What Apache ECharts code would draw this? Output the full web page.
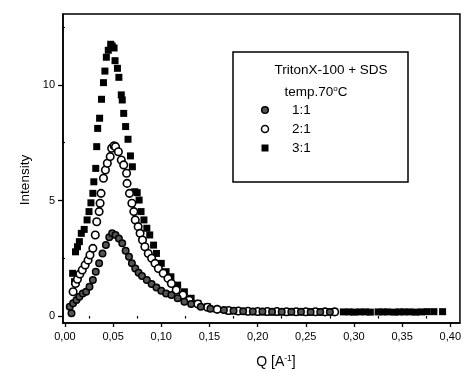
<!DOCTYPE html>
<html>
<head>
<meta charset="utf-8">
<script src="https://cdn.jsdelivr.net/npm/echarts@6/dist/echarts.min.js"></script>
<style>
  html, body { margin: 0; padding: 0; background: #fff; }
  #chart { width: 464px; height: 373px; }
</style>
</head>
<body>
<div id="chart"></div>
<script>
// TritonX-100 + SDS, 70 C, SAXS intensity vs Q
const q11 = [0.005, 0.0068, 0.0085, 0.012, 0.015, 0.0185, 0.022, 0.0255, 0.029, 0.032, 0.0355, 0.039, 0.0425, 0.046, 0.049, 0.0525, 0.056, 0.0595, 0.063, 0.0665, 0.0695, 0.073, 0.0765, 0.08, 0.085, 0.09, 0.095, 0.1, 0.105, 0.1105, 0.117, 0.124, 0.131, 0.141, 0.151, 0.165, 0.175, 0.185, 0.195, 0.205, 0.215, 0.225, 0.235, 0.245, 0.255, 0.265, 0.275]
const i11 = [0.4, 0.12, 0.55, 0.69, 0.84, 0.98, 1.05, 1.27, 1.56, 1.92, 2.28, 2.71, 3.07, 3.41, 3.58, 3.51, 3.36, 3.15, 2.83, 2.57, 2.28, 2.06, 1.87, 1.73, 1.56, 1.39, 1.24, 1.1, 0.98, 0.91, 0.77, 0.62, 0.52, 0.4, 0.32, 0.26, 0.23, 0.21, 0.2, 0.2, 0.19, 0.19, 0.19, 0.19, 0.18, 0.18, 0.18]

const q21 = [0.0085, 0.011, 0.013, 0.0155, 0.018, 0.021, 0.024, 0.026, 0.029, 0.0315, 0.033, 0.0355, 0.0365, 0.0375, 0.04, 0.042, 0.044, 0.047, 0.0485, 0.051, 0.0525, 0.0555, 0.0585, 0.061, 0.064, 0.0645, 0.067, 0.0695, 0.0715, 0.073, 0.076, 0.078, 0.0805, 0.083, 0.0865, 0.09, 0.0935, 0.097, 0.102, 0.107, 0.1105, 0.1155, 0.1225, 0.129, 0.138, 0.148, 0.158, 0.17, 0.18, 0.19, 0.2, 0.21, 0.22, 0.23, 0.24, 0.25, 0.26, 0.27, 0.28]
const i21 = [1.05, 1.41, 1.59, 1.82, 1.99, 2.21, 2.42, 2.64, 2.93, 3.51, 4.08, 4.52, 4.88, 5.31, 5.96, 6.32, 6.61, 6.9, 7.26, 7.37, 7.33, 7.11, 6.75, 6.54, 6.18, 5.74, 5.31, 4.88, 4.52, 4.16, 3.87, 3.58, 3.29, 3.0, 2.71, 2.5, 2.28, 2.06, 1.85, 1.63, 1.41, 1.13, 0.91, 0.69, 0.52, 0.38, 0.29, 0.24, 0.22, 0.21, 0.2, 0.2, 0.2, 0.19, 0.19, 0.19, 0.19, 0.18, 0.18]

const q31 = [0.008, 0.01, 0.011, 0.013, 0.015, 0.017, 0.02, 0.023, 0.025, 0.027, 0.029, 0.03, 0.032, 0.033, 0.034, 0.036, 0.038, 0.04, 0.0415, 0.043, 0.045, 0.0475, 0.049, 0.051, 0.052, 0.0545, 0.056, 0.0585, 0.0595, 0.061, 0.063, 0.0655, 0.068, 0.07, 0.0725, 0.075, 0.077, 0.079, 0.082, 0.085, 0.088, 0.092, 0.095, 0.1, 0.105, 0.11, 0.117, 0.124, 0.131, 0.138, 0.148, 0.158, 0.17, 0.18,
  0.185, 0.19, 0.195, 0.2, 0.205, 0.21, 0.215, 0.22, 0.225, 0.23, 0.235, 0.24, 0.245, 0.25, 0.255, 0.26, 0.265, 0.27, 0.276, 0.28, 0.289, 0.295, 0.3, 0.306, 0.312, 0.317, 0.325, 0.33, 0.335, 0.342, 0.347, 0.352, 0.358, 0.364, 0.37, 0.376, 0.383, 0.392]
const i31 = [1.85, 1.49, 2.78, 3.0, 3.22, 3.58, 3.75, 4.16, 4.52, 4.9, 5.31, 5.81, 6.39, 7.33, 8.12, 8.56, 9.38, 10.1, 10.6, 11.2, 11.5, 11.76, 11.69, 11.6, 11.05, 10.72, 10.33, 9.57, 9.35, 8.77, 8.2, 7.65, 6.93, 6.46, 5.38, 5.34, 5.02, 4.52, 4.16, 3.8, 3.51, 3.07, 2.71, 2.28, 1.92, 1.7, 1.34, 1.05, 0.77, 0.55, 0.4, 0.29, 0.22, 0.2,
  0.2, 0.19, 0.19, 0.19, 0.18, 0.18, 0.18, 0.18, 0.18, 0.18, 0.18, 0.18, 0.18, 0.18, 0.18, 0.19, 0.18, 0.18, 0.18, 0.18, 0.18, 0.18, 0.17, 0.18, 0.18, 0.17, 0.18, 0.18, 0.18, 0.17, 0.18, 0.18, 0.18, 0.17, 0.18, 0.19, 0.19, 0.19]

const xMajor = [0, 0.05, 0.1, 0.15, 0.2, 0.25, 0.3, 0.35, 0.4]
const xMinor = [0.025, 0.075, 0.125, 0.175, 0.225, 0.275, 0.325, 0.375]
const yMajor = [0, 5, 10]
const yMinor = [2.5, 7.5, 12.5]

const pairs = (xs, ys) => xs.map((x, i) => [x, ys[i]])

const FONT = 'Liberation Sans, Arial, sans-serif'
const X_MIN = -0.002, X_MAX = 0.41
const Y_MIN = -0.3, Y_MAX = 13.07

const chart = echarts.init(document.getElementById('chart'), null, { renderer: 'canvas' })

const baseX = {
  type: 'value', min: X_MIN, max: X_MAX, position: 'bottom',
  splitLine: { show: false }
}
const baseY = {
  type: 'value', min: Y_MIN, max: Y_MAX, position: 'left',
  splitLine: { show: false }
}

chart.setOption({
  backgroundColor: '#fff',
  animation: false,
  grid: {
    left: 63, top: 14, width: 404, height: 309,
    show: true, borderColor: '#000', borderWidth: 1.5, backgroundColor: 'transparent'
  },
  xAxis: [
    {
      ...baseX,
      axisLine: { show: true, onZero: false, lineStyle: { color: '#000', width: 1.5 } },
      axisTick: { show: true, customValues: xMajor, length: 4, lineStyle: { color: '#000', width: 1.3 } },
      axisLabel: {
        customValues: xMajor, margin: 8, fontFamily: FONT, fontSize: 11, color: '#000',
        formatter: v => v.toFixed(2).replace('.', ',')
      }
    },
    {
      ...baseX,
      axisLine: { show: false },
      axisTick: { show: true, customValues: xMinor, length: 2.5, lineStyle: { color: '#000', width: 1.2 } },
      axisLabel: { show: false }
    }
  ],
  yAxis: [
    {
      ...baseY,
      axisLine: { show: true, onZero: false, lineStyle: { color: '#000', width: 1.5 } },
      axisTick: { show: true, customValues: yMajor, length: 5, lineStyle: { color: '#000', width: 1.3 } },
      axisLabel: { customValues: yMajor, margin: 8, fontFamily: FONT, fontSize: 11, color: '#000' }
    },
    {
      ...baseY,
      axisLine: { show: false },
      axisTick: { show: true, customValues: yMinor, length: 3, lineStyle: { color: '#000', width: 1.2 } },
      axisLabel: { show: false }
    }
  ],
  series: [
    {
      name: '3:1', type: 'scatter', data: pairs(q31, i31),
      symbol: 'rect', symbolSize: 7,
      itemStyle: { color: '#000', opacity: 1 }
    },
    {
      name: '2:1', type: 'scatter', data: pairs(q21, i21),
      symbol: 'circle', symbolSize: 7.5,
      itemStyle: { color: '#fff', borderColor: '#000', borderWidth: 1.6, opacity: 1 }
    },
    {
      name: '1:1', type: 'scatter', data: pairs(q11, i11),
      symbol: 'circle', symbolSize: 6.5,
      itemStyle: { color: '#555', borderColor: '#000', borderWidth: 1.5, opacity: 1 }
    }
  ],
  graphic: [
    // legend box
    { type: 'rect', shape: { x: 233, y: 52, width: 175, height: 130 },
      style: { fill: '#fff', stroke: '#000', lineWidth: 1.5 }, z: 10 },
    { type: 'text', x: 331, y: 70, z: 11,
      style: { text: 'TritonX-100 + SDS', font: '13.5px ' + FONT, fill: '#000', align: 'center', verticalAlign: 'middle' } },
    { type: 'text', x: 316, y: 92, z: 11,
      style: {
        text: '{a|temp.70}{s|o}{a|C}', fill: '#000', align: 'center', verticalAlign: 'middle',
        rich: {
          a: { font: '13.5px ' + FONT, fill: '#000' },
          s: { font: '8px ' + FONT, fill: '#000', verticalAlign: 'top', padding: [0, 0, 6, 0] }
        }
      } },
    { type: 'circle', shape: { cx: 265, cy: 110, r: 3.3 }, z: 11,
      style: { fill: '#555', stroke: '#000', lineWidth: 1.5 } },
    { type: 'text', x: 292, y: 110, z: 11,
      style: { text: '1:1', font: '13.5px ' + FONT, fill: '#000', verticalAlign: 'middle' } },
    { type: 'circle', shape: { cx: 265, cy: 129, r: 3.5 }, z: 11,
      style: { fill: '#fff', stroke: '#000', lineWidth: 1.5 } },
    { type: 'text', x: 292, y: 129, z: 11,
      style: { text: '2:1', font: '13.5px ' + FONT, fill: '#000', verticalAlign: 'middle' } },
    { type: 'rect', shape: { x: 261.5, y: 144.5, width: 7, height: 7 }, z: 11,
      style: { fill: '#000' } },
    { type: 'text', x: 292, y: 148, z: 11,
      style: { text: '3:1', font: '13.5px ' + FONT, fill: '#000', verticalAlign: 'middle' } },
    // axis titles
    { type: 'text', x: 25, y: 180, rotation: Math.PI / 2, z: 11,
      style: { text: 'Intensity', font: '13.5px ' + FONT, fill: '#000', align: 'center', verticalAlign: 'middle' } },
    { type: 'text', x: 276, y: 362, z: 11,
      style: {
        text: '{a|Q [A}{s|-1}{a|]}', align: 'center', verticalAlign: 'middle',
        rich: {
          a: { font: '14px ' + FONT, fill: '#000' },
          s: { font: '8.5px ' + FONT, fill: '#000', padding: [0, 0, 7, 0] }
        }
      } }
  ]
})

window.addEventListener('resize', () => chart.resize())
</script>
</body>
</html>
